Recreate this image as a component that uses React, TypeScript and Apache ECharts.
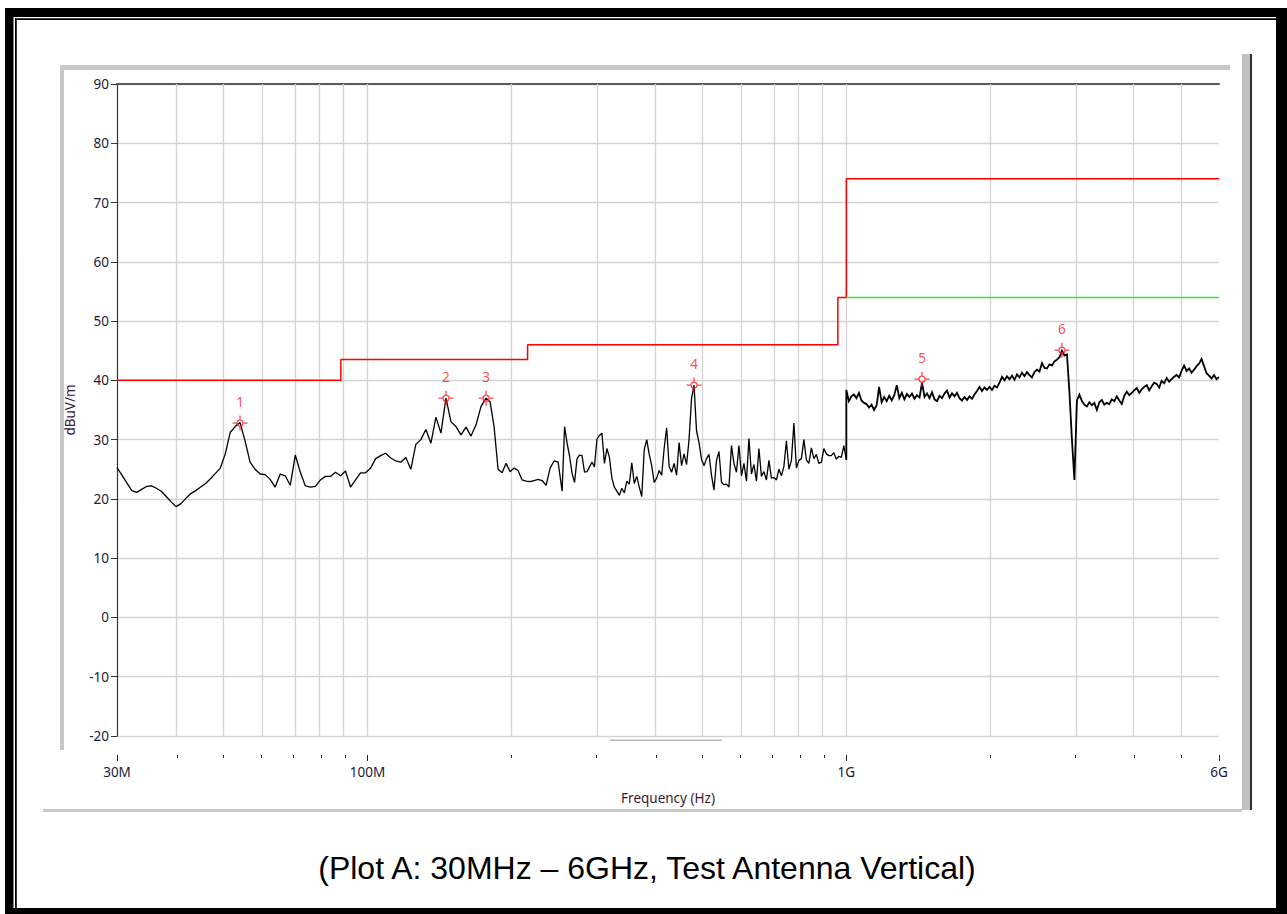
import React, { useEffect, useRef } from "react";
import * as echarts from "echarts";

// ---- Data (frequency in MHz, level in dBuV/m) ----
// Sweep segment boundaries (MHz); each levels array is spread evenly (log-frequency) between its two bounds
const segBoundsMHz = [30, 54.2, 145.9, 176.9, 255, 480.8, 1000, 1439, 2820, 6000];

const levelsA = [25.3, 24.0, 22.7, 21.4, 21.1, 21.6, 22.1, 22.2, 21.8, 21.3, 20.4, 19.5, 18.7, 19.2, 20.1, 20.9, 21.4, 22.0, 22.6, 23.4, 24.3, 25.2, 27.6, 31.2, 32.2, 32.9];
const levelsB = [32.9, 29.8, 26.2, 25.0, 24.2, 24.1, 23.3, 22.0, 24.2, 23.9, 22.3, 27.4, 24.5, 22.2, 22.0, 22.1, 23.2, 23.8, 23.8, 24.5, 23.9, 24.7, 22.0, 23.2, 24.4, 24.4, 25.2, 26.8, 27.3, 27.7, 26.9, 26.4, 26.2, 27.0, 25.0, 29.2, 30.0, 31.7, 29.4, 33.8, 31.1, 37.0];
const levelsC = [37.0, 33.0, 32.2, 30.8, 32.1, 30.6, 32.5, 35.6, 37.0];
const levelsD1 = [37.0, 36.4, 32.2, 25.0, 24.4, 26.0, 24.6, 25.2, 24.8, 23.2, 23.0, 22.9, 23.1, 23.3, 23.1, 22.3, 25.2, 26.4, 26.2, 21.3];
const levelsD2 = [21.3, 32.2, 29.4, 27.2, 24.3, 22.8, 26.8, 27.4, 27.3, 24.5, 24.6, 25.4, 26.2, 25.4, 30.1, 30.7, 31.1, 26.0, 28.5, 27.0, 23.5, 22.0, 21.3, 20.6, 21.8, 21.0, 23.0, 22.5, 26.1, 22.6, 23.8, 22.0, 20.4, 28.3, 30.0, 27.5, 25.6, 22.8, 23.5, 24.8, 24.0, 28.5, 32.0, 25.5, 24.5, 26.0, 24.0, 29.5, 25.6, 27.6, 25.8, 30.0, 36.9, 39.2];
const levelsE = [39.2, 31.5, 29.5, 26.7, 25.6, 26.8, 27.5, 24.0, 21.5, 26.5, 28.0, 22.8, 22.4, 22.5, 22.0, 29.0, 26.0, 24.5, 29.0, 23.9, 26.0, 23.0, 30.2, 24.2, 25.8, 23.0, 28.5, 23.8, 24.6, 23.2, 26.5, 23.5, 23.6, 23.2, 25.0, 23.9, 25.5, 29.8, 25.0, 26.5, 32.8, 25.2, 26.5, 26.8, 30.0, 26.6, 26.0, 28.6, 26.8, 27.5, 26.0, 26.2, 28.5, 27.6, 27.3, 27.3, 27.8, 26.7, 27.2, 27.0, 29.0, 26.6];
const levelsF = [38.4, 36.5, 37.3, 37.6, 37.0, 37.9, 36.6, 36.2, 36.0, 35.4, 35.9, 35.0, 35.8, 38.9, 36.3, 37.2, 36.5, 37.4, 36.6, 37.5, 39.2, 37.0, 37.9, 36.8, 37.7, 37.2, 37.8, 36.9, 37.5, 37.1, 39.6];
const levelsG = [39.6, 37.2, 37.8, 37.0, 38.0, 36.8, 36.5, 37.4, 37.0, 37.8, 38.3, 37.1, 37.8, 37.3, 37.9, 37.0, 36.6, 37.2, 36.7, 37.3, 36.9, 37.6, 38.2, 38.9, 38.2, 38.8, 38.4, 38.9, 38.4, 39.1, 38.8, 39.6, 40.6, 40.0, 40.7, 40.2, 40.8, 40.1, 41.0, 40.5, 41.3, 40.7, 41.4, 40.9, 40.5, 41.4, 41.8, 41.5, 42.9, 42.1, 42.0, 42.7, 42.5, 43.2, 43.5, 43.9, 45.0];
const levelsH = [45.0, 44.2, 44.4, 38.0, 30.0, 23.2, 36.6, 37.6, 36.5, 35.9, 35.6, 36.3, 35.8, 36.2, 35.0, 36.3, 36.7, 35.9, 36.2, 36.0, 36.8, 36.5, 37.3, 36.6, 36.0, 37.4, 38.1, 37.5, 37.9, 38.3, 38.7, 37.9, 38.5, 38.9, 39.2, 38.3, 39.0, 39.6, 39.4, 38.8, 39.9, 39.5, 40.4, 39.8, 40.2, 40.6, 40.9, 40.5, 41.6, 42.5, 41.6, 42.0, 41.3, 41.8, 42.4, 42.8, 43.6, 42.4, 41.2, 40.8, 40.3, 40.9, 40.2, 40.6];
const segLevels = [levelsA, levelsB, levelsC, levelsD1, levelsD2, levelsE, levelsF, levelsG, levelsH];
// segments drawn as the denser (above 1 GHz) sweep
const denseFromSegment = 6;

const limitRedFreqMHz = [30, 88, 88, 216, 216, 960, 960, 1000, 1000, 6000];
const limitRedLevel = [40, 40, 43.5, 43.5, 46, 46, 54, 54, 74, 74];
const limitGreenFreqMHz = [1000, 6000];
const limitGreenLevel = [54, 54];

const markerFreqMHz = [54.2, 145.9, 176.9, 480.8, 1439, 2820];
const markerLevel = [32.8, 37.0, 37.0, 39.2, 40.2, 45.1];

const gridFreqMHz = [40, 50, 60, 70, 80, 90, 100, 200, 300, 400, 500, 600, 700, 800, 900, 1000, 2000, 3000, 4000, 5000, 6000];
const majorTickMHz = [30, 100, 1000, 6000];
const minorTickMHz = [40, 50, 60, 70, 80, 90, 200, 300, 400, 500, 600, 700, 800, 900, 2000, 3000, 4000, 5000];

const yTicks = { min: -20, max: 90, step: 10 };

const caption = "(Plot A: 30MHz \u2013 6GHz, Test Antenna Vertical)";

// ---- helpers ----
const lg = (mhz: number) => Math.log10(mhz * 1e6);
const X_MIN = lg(30);
const X_MAX = lg(6000);

function buildTrace(from: number, to: number): number[][] {
  const out: number[][] = [];
  for (let i = from; i < to; i++) {
    const lv = segLevels[i];
    const a = lg(segBoundsMHz[i]);
    const b = lg(segBoundsMHz[i + 1]);
    const n = lv.length;
    lv.forEach((v, k) => {
      out.push([a + ((b - a) * k) / (n - 1), v]);
    });
  }
  return out;
}

const FONT = "Noto Sans";
const FS = 13.5;
const markerPath =
  "path://M10,0 L10,6 M10,14 L10,20 M0,10 L6,10 M14,10 L20,10 M14,10 A4,4 0 1,1 6,10 A4,4 0 1,1 14,10 Z";

export default function App() {
  const ref = useRef<HTMLDivElement>(null);
  useEffect(() => {
    if (!ref.current) return;
    const chart = echarts.init(ref.current, null, { renderer: "svg" });
    const fmt = (v: number) => {
      const mhz = Math.round(Math.pow(10, v) / 1e6);
      return mhz >= 1000 ? mhz / 1000 + "G" : mhz + "M";
    };
    const option: any = {
      animation: false,
      backgroundColor: "#ffffff",
      grid: { left: 117, top: 84, width: 1102, height: 652, containLabel: false },
      xAxis: [
        {
          type: "value",
          min: X_MIN,
          max: X_MAX,
          position: "bottom",
          offset: 19,
          name: "Frequency (Hz)",
          nameLocation: "middle",
          nameGap: 36,
          nameTextStyle: { fontFamily: FONT, fontSize: FS, color: "#3a1a2a" },
          axisLine: { show: false, onZero: false },
          axisTick: { show: true, length: 6, customValues: majorTickMHz.map(lg), lineStyle: { color: "#222", width: 1 } },
          axisLabel: { customValues: majorTickMHz.map(lg), formatter: fmt, margin: 10, fontFamily: FONT, fontSize: FS, color: "#1a1a3a" },
          splitLine: { show: false },
        },
        {
          type: "value",
          min: X_MIN,
          max: X_MAX,
          position: "bottom",
          offset: 19,
          axisLine: { show: false, onZero: false },
          axisTick: { show: true, length: 3, customValues: minorTickMHz.map(lg), lineStyle: { color: "#222", width: 1 } },
          axisLabel: { show: false },
          splitLine: { show: false },
        },
        {
          type: "value",
          min: X_MIN,
          max: X_MAX,
          position: "top",
          axisLine: { show: true, onZero: false, lineStyle: { color: "#5a5a5a", width: 2 } },
          axisTick: { show: false },
          axisLabel: { show: false },
          splitLine: { show: false },
        },
      ],
      yAxis: {
        type: "value",
        min: yTicks.min,
        max: yTicks.max,
        interval: yTicks.step,
        name: "dBuV/m",
        nameLocation: "middle",
        nameGap: 40,
        nameRotate: 90,
        nameTextStyle: { fontFamily: FONT, fontSize: FS, color: "#3a1a40" },
        axisLine: { show: true, onZero: false, lineStyle: { color: "#333", width: 1.2 } },
        axisTick: { show: true, length: 6, lineStyle: { color: "#333" } },
        axisLabel: { margin: 8, fontFamily: FONT, fontSize: FS, color: "#1a1a3a" },
        splitLine: { show: true, lineStyle: { color: "#d3d3d3", width: 1.3 } },
      },
      series: [
        {
          name: "grid",
          type: "line",
          z: 1,
          data: [],
          symbol: "none",
          silent: true,
          markLine: {
            z: 1,
            silent: true,
            symbol: ["none", "none"],
            label: { show: false },
            lineStyle: { color: "#d3d3d3", width: 1.3, type: "solid" },
            emphasis: { disabled: true },
            data: gridFreqMHz.map((f) => ({ xAxis: lg(f) })),
          },
        },
        {
          name: "limit",
          type: "line",
          z: 2,
          symbol: "none",
          lineStyle: { color: "#ff0000", width: 1.5 },
          data: limitRedFreqMHz.map((f, i) => [lg(f), limitRedLevel[i]]),
        },
        {
          name: "avg",
          type: "line",
          z: 2,
          symbol: "none",
          lineStyle: { color: "#33e833", width: 1.5 },
          data: limitGreenFreqMHz.map((f, i) => [lg(f), limitGreenLevel[i]]),
        },
        {
          name: "trace",
          type: "line",
          z: 3,
          symbol: "none",
          lineStyle: { color: "#000000", width: 1.3 },
          data: buildTrace(0, denseFromSegment),
        },
        {
          name: "traceHigh",
          type: "line",
          z: 3,
          symbol: "none",
          lineStyle: { color: "#000000", width: 1.8, join: "miter" },
          data: [buildTrace(denseFromSegment - 1, denseFromSegment).slice(-1)[0], ...buildTrace(denseFromSegment, segLevels.length)],
        },
        {
          name: "markers",
          type: "scatter",
          z: 4,
          symbol: markerPath,
          symbolSize: 15,
          itemStyle: { color: "rgba(0,0,0,0)", borderColor: "#ff1a1a", borderWidth: 1.3 },
          label: {
            show: true,
            position: "top",
            distance: 6,
            formatter: (p: any) => String(p.dataIndex + 1),
            color: "#ff1a1a",
            fontFamily: FONT,
            fontSize: FS,
          },
          data: markerFreqMHz.map((f, i) => [lg(f), markerLevel[i]]),
        },
      ],
      graphic: [
        // outer thick frame
        { type: "rect", shape: { x: 5, y: 8, width: 1282, height: 9 }, style: { fill: "#000" }, silent: true },
        { type: "rect", shape: { x: 5, y: 8, width: 8.5, height: 906 }, style: { fill: "#000" }, silent: true },
        { type: "rect", shape: { x: 1276, y: 8, width: 11, height: 906 }, style: { fill: "#000" }, silent: true },
        { type: "rect", shape: { x: 5, y: 908, width: 1282, height: 6 }, style: { fill: "#000" }, silent: true },
        // inner thin lines
        { type: "rect", shape: { x: 15, y: 18.3, width: 1261, height: 1.8 }, style: { fill: "#000" }, silent: true },
        { type: "rect", shape: { x: 15, y: 18.3, width: 1.8, height: 890 }, style: { fill: "#000" }, silent: true },
        // chart panel bevel
        { type: "rect", shape: { x: 60, y: 65, width: 1170, height: 5 }, style: { fill: "#c8c8c8" }, silent: true },
        { type: "rect", shape: { x: 60, y: 65, width: 4, height: 685 }, style: { fill: "#c8c8c8" }, silent: true },
        { type: "rect", shape: { x: 1242, y: 54, width: 8, height: 756 }, style: { fill: "#c0c0c0" }, silent: true },
        { type: "rect", shape: { x: 1250, y: 54, width: 2, height: 756 }, style: { fill: "#303030" }, silent: true },
        { type: "rect", shape: { x: 43, y: 809, width: 1199, height: 3 }, style: { fill: "#c8c8c8" }, silent: true },
        { type: "rect", shape: { x: 610, y: 739.5, width: 112, height: 1.5 }, style: { fill: "#b8b8b8" }, silent: true },
        {
          type: "text",
          x: 647,
          y: 868,
          silent: true,
          style: {
            text: caption,
            font: '32px "Liberation Sans", Arial, sans-serif',
            fill: "#000",
            align: "center",
            verticalAlign: "middle",
            textAlign: "center",
            textVerticalAlign: "middle",
          },
        },
      ],
    };
    chart.setOption(option);
    return () => chart.dispose();
  }, []);
  return (
    <div
      ref={ref}
      style={{ position: "fixed", left: 0, top: 0, width: 1287, height: 914, background: "#fff" }}
    />
  );
}
